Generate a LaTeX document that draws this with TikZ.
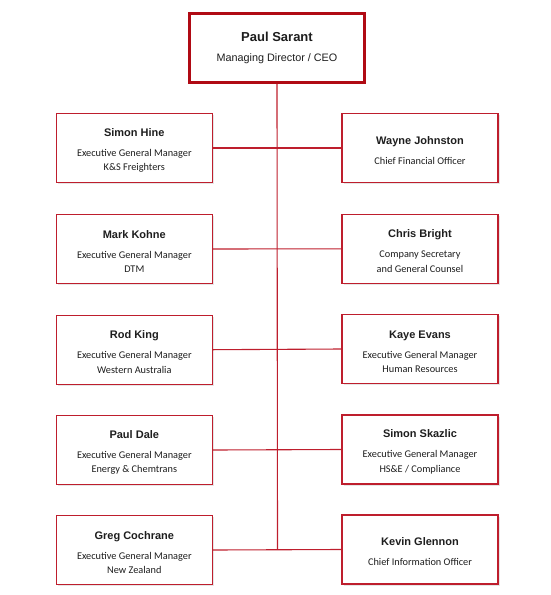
\documentclass[tikz,border=0pt]{standalone}
\usepackage{fontspec}
\setmainfont{Liberation Sans}
\newfontfamily\calibri{Carlito}
\usetikzlibrary{shadows}
\definecolor{boxred}{RGB}{190,30,45}
\definecolor{ceored}{RGB}{176,10,20}
\definecolor{txt}{RGB}{30,30,30}
\tikzset{
  person/.style={draw=boxred, line width=1.4pt, fill=white, rectangle,
    minimum width=156pt, minimum height=69pt, inner sep=0pt, align=center,
    text=txt, drop shadow={shadow xshift=1.5pt, shadow yshift=-1.5pt, opacity=0.2},
    font=\calibri\fontsize{10.3}{14.4}\selectfont},
  ceobox/.style={draw=ceored, line width=3pt, fill=white, rectangle,
    minimum width=175pt, minimum height=69pt, inner sep=0pt, align=center,
    text=txt, drop shadow={shadow xshift=1.5pt, shadow yshift=-1.5pt, opacity=0.2},
    font=\fontsize{10.8}{12}\selectfont},
  link/.style={draw=boxred, line width=1.1pt}
}
\newcommand{\pname}[1]{{\rmfamily\bfseries\fontsize{11}{14.4}\selectfont\rule{0pt}{12.5pt}#1}}
\begin{document}
\begin{tikzpicture}[x=1pt,y=-1pt]
\useasboundingbox (0,0) rectangle (550,595);
\coordinate (trunk) at (277.5,549);
\node[ceobox] (ceo) at (277,47.8) {\bfseries\fontsize{13}{15}\selectfont Paul Sarant\\[8pt]Managing Director / CEO};
\draw[link] (ceo.south) -- (trunk);
\node[person] (l1) at (134.3,148) {\pname{Simon Hine}\\[5.6pt]Executive General Manager\\K\&S Freighters};
\node[person] (r1) at (420,148) {\pname{Wayne Johnston}\\[5.6pt]Chief Financial Officer};
\node[person] (l2) at (134.3,249) {\pname{Mark Kohne}\\[5.6pt]Executive General Manager\\DTM};
\node[person] (r2) at (420,248.8) {\pname{Chris Bright}\\[5.6pt]Company Secretary\\and General Counsel};
\node[person] (l3) at (134.3,349.7) {\pname{Rod King}\\[5.6pt]Executive General Manager\\Western Australia};
\node[person] (r3) at (420,349) {\pname{Kaye Evans}\\[5.6pt]Executive General Manager\\Human Resources};
\node[person] (l4) at (134.3,450) {\pname{Paul Dale}\\[5.6pt]Executive General Manager\\Energy \& Chemtrans};
\node[person] (r4) at (420,449.5) {\pname{Simon Skazlic}\\[5.6pt]Executive General Manager\\HS\&E / Compliance};
\node[person] (l5) at (134.3,550) {\pname{Greg Cochrane}\\[5.6pt]Executive General Manager\\New Zealand};
\node[person] (r5) at (420,549.5) {\pname{Kevin Glennon}\\[5.6pt]Chief Information Officer};
\foreach \i in {1,...,5}{\draw[link] (l\i.east) -- (r\i.west);}
\end{tikzpicture}
\end{document}
